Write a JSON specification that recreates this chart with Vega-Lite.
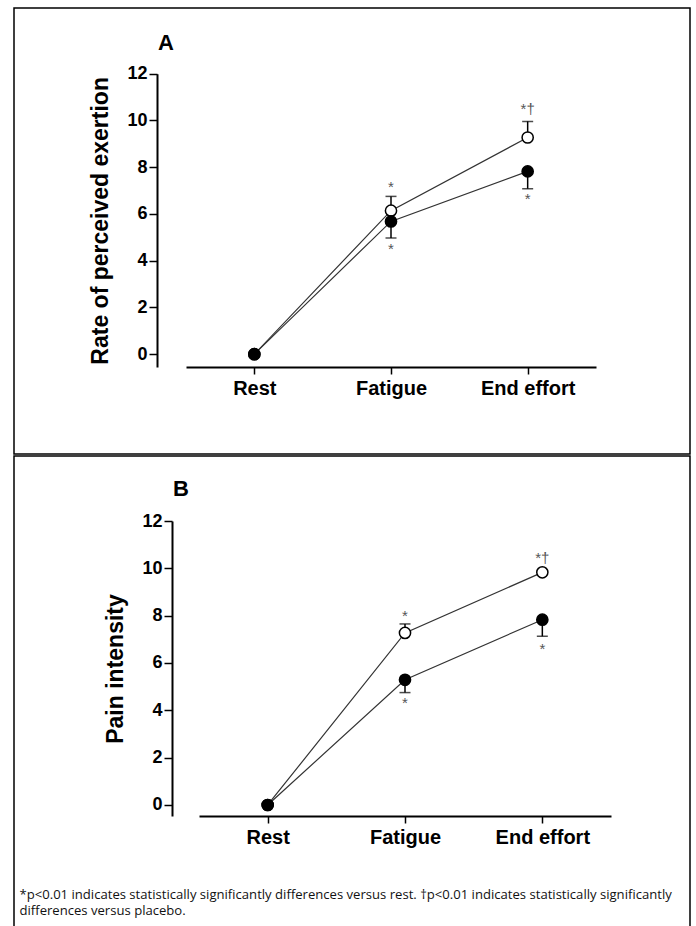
{
  "$schema": "https://vega.github.io/schema/vega-lite/v6.json",
  "padding": {"left": 13, "top": 7, "right": 0, "bottom": 0},
  "spacing": 0,
  "background": "white",
  "config": {
    "font": "Liberation Sans",
    "view": {"stroke": "#000", "strokeWidth": 1.5},
    "axis": {"grid": false, "domainColor": "#000", "domainWidth": 2, "tickColor": "#000", "tickWidth": 1.5, "labelColor": "#000", "labelFontWeight": "bold", "titleColor": "#000", "titleFontWeight": "bold", "labelFont": "Liberation Sans", "titleFont": "Liberation Sans"}
  },
  "datasets": {
    "meansA": [
      {"time": "Rest", "cond": "Treatment", "mean": 0},
      {"time": "Fatigue", "cond": "Treatment", "mean": 6.14},
      {"time": "End effort", "cond": "Treatment", "mean": 9.27},
      {"time": "Rest", "cond": "Placebo", "mean": 0},
      {"time": "Fatigue", "cond": "Placebo", "mean": 5.68},
      {"time": "End effort", "cond": "Placebo", "mean": 7.82}
    ],
    "errA": [
      {"time": "Fatigue", "cond": "Treatment", "lo": 6.14, "hi": 6.75, "cap": 6.75},
      {"time": "End effort", "cond": "Treatment", "lo": 9.27, "hi": 9.96, "cap": 9.96},
      {"time": "Fatigue", "cond": "Placebo", "lo": 4.97, "hi": 5.68, "cap": 4.97},
      {"time": "End effort", "cond": "Placebo", "lo": 7.08, "hi": 7.82, "cap": 7.08}
    ],
    "starsA": [
      {"time": "Fatigue", "pos": 7.26, "label": "*"},
      {"time": "Fatigue", "pos": 4.62, "label": "*"},
      {"time": "End effort", "pos": 10.6, "label": "*†"},
      {"time": "End effort", "pos": 6.75, "label": "*"}
    ],
    "meansB": [
      {"time": "Rest", "cond": "Treatment", "mean": 0},
      {"time": "Fatigue", "cond": "Treatment", "mean": 7.27},
      {"time": "End effort", "cond": "Treatment", "mean": 9.83},
      {"time": "Rest", "cond": "Placebo", "mean": 0},
      {"time": "Fatigue", "cond": "Placebo", "mean": 5.29},
      {"time": "End effort", "cond": "Placebo", "mean": 7.83}
    ],
    "errB": [
      {"time": "Fatigue", "cond": "Treatment", "lo": 7.27, "hi": 7.65, "cap": 7.65},
      {"time": "Fatigue", "cond": "Placebo", "lo": 4.75, "hi": 5.29, "cap": 4.75},
      {"time": "End effort", "cond": "Placebo", "lo": 7.13, "hi": 7.83, "cap": 7.13}
    ],
    "starsB": [
      {"time": "Fatigue", "pos": 8.11, "label": "*"},
      {"time": "Fatigue", "pos": 4.44, "label": "*"},
      {"time": "End effort", "pos": 10.55, "label": "*†"},
      {"time": "End effort", "pos": 6.72, "label": "*"}
    ]
  },
  "vconcat": [
    {
      "width": 676,
      "height": 446,
      "title": {"text": "A", "orient": "top", "anchor": "start", "frame": "group", "offset": -64, "dx": 144, "baseline": "alphabetic", "fontSize": 22, "fontWeight": "bold", "color": "#000", "font": "Liberation Sans"},
      "encoding": {
        "x": {"field": "time", "type": "ordinal", "sort": ["Rest", "Fatigue", "End effort"], "scale": {"type": "point", "range": [172, 582], "padding": 0.5}, "axis": {"title": null, "labelAngle": 0, "offset": -87, "labelFontSize": 20, "tickSize": 7, "labelPadding": 4}}
      },
      "layer": [
        {
          "data": {"name": "meansA"},
          "mark": {"type": "line", "color": "#333", "strokeWidth": 1.2},
          "encoding": {
            "y": {"field": "mean", "type": "quantitative", "scale": {"domain": [-0.55, 12], "range": [359, 65.7], "nice": false, "zero": false}, "axis": {"title": "Rate of perceived exertion", "offset": -143, "values": [0, 2, 4, 6, 8, 10, 12], "labelFontSize": 18, "titleFontSize": 23, "tickSize": 8, "labelPadding": 2, "titlePadding": 14}},
            "detail": {"field": "cond"}
          }
        },
        {
          "data": {"name": "errA"},
          "mark": {"type": "rule", "color": "#000", "strokeWidth": 1.5},
          "encoding": {
            "y": {"field": "lo", "type": "quantitative"},
            "y2": {"field": "hi"}
          }
        },
        {
          "data": {"name": "errA"},
          "mark": {"type": "tick", "orient": "horizontal", "size": 11, "thickness": 1.5, "color": "#000"},
          "encoding": {
            "y": {"field": "cap", "type": "quantitative"}
          }
        },
        {
          "data": {"name": "meansA"},
          "mark": {"type": "point", "shape": "circle", "size": 125, "filled": false, "stroke": "#000", "strokeWidth": 1.5, "opacity": 1},
          "encoding": {
            "y": {"field": "mean", "type": "quantitative"},
            "fill": {"field": "cond", "type": "nominal", "scale": {"domain": ["Placebo", "Treatment"], "range": ["#000", "#fff"]}, "legend": null}
          }
        },
        {
          "data": {"name": "starsA"},
          "mark": {"type": "text", "color": "#555", "fontSize": 15, "baseline": "alphabetic", "dy": 8, "font": "Liberation Sans"},
          "encoding": {
            "y": {"field": "pos", "type": "quantitative"},
            "text": {"field": "label"}
          }
        }
      ]
    },
    {
      "width": 676,
      "height": 476,
      "title": {"text": "B", "orient": "top", "anchor": "start", "frame": "group", "offset": -62, "dx": 159, "baseline": "alphabetic", "fontSize": 22, "fontWeight": "bold", "color": "#000", "font": "Liberation Sans"},
      "encoding": {
        "x": {"field": "time", "type": "ordinal", "sort": ["Rest", "Fatigue", "End effort"], "scale": {"type": "point", "range": [185, 597], "padding": 0.5}, "axis": {"title": ["*p<0.01 indicates statistically significantly differences versus rest. †p<0.01 indicates statistically significantly", "differences versus placebo."], "titleX": 5, "titleY": 72, "titleAlign": "left", "titleBaseline": "top", "titleFont": "Open Sans", "titleFontSize": 13.1, "titleFontWeight": "normal", "titleColor": "#111", "titleLineHeight": 16.5, "labelAngle": 0, "offset": -116, "labelFontSize": 20, "tickSize": 7, "labelPadding": 4}}
      },
      "layer": [
        {
          "data": {"name": "meansB"},
          "mark": {"type": "line", "color": "#333", "strokeWidth": 1.2},
          "encoding": {
            "y": {"field": "mean", "type": "quantitative", "scale": {"domain": [-0.465, 12], "range": [360, 65], "nice": false, "zero": false}, "axis": {"title": "Pain intensity", "offset": -158, "values": [0, 2, 4, 6, 8, 10, 12], "labelFontSize": 18, "titleFontSize": 23, "tickSize": 8, "labelPadding": 2, "titlePadding": 14}},
            "detail": {"field": "cond"}
          }
        },
        {
          "data": {"name": "errB"},
          "mark": {"type": "rule", "color": "#000", "strokeWidth": 1.5},
          "encoding": {
            "y": {"field": "lo", "type": "quantitative"},
            "y2": {"field": "hi"}
          }
        },
        {
          "data": {"name": "errB"},
          "mark": {"type": "tick", "orient": "horizontal", "size": 11, "thickness": 1.5, "color": "#000"},
          "encoding": {
            "y": {"field": "cap", "type": "quantitative"}
          }
        },
        {
          "data": {"name": "meansB"},
          "mark": {"type": "point", "shape": "circle", "size": 125, "filled": false, "stroke": "#000", "strokeWidth": 1.5, "opacity": 1},
          "encoding": {
            "y": {"field": "mean", "type": "quantitative"},
            "fill": {"field": "cond", "type": "nominal", "scale": {"domain": ["Placebo", "Treatment"], "range": ["#000", "#fff"]}, "legend": null}
          }
        },
        {
          "data": {"name": "starsB"},
          "mark": {"type": "text", "color": "#555", "fontSize": 15, "baseline": "alphabetic", "dy": 8, "font": "Liberation Sans"},
          "encoding": {
            "y": {"field": "pos", "type": "quantitative"},
            "text": {"field": "label"}
          }
        }
      ]
    }
  ]
}
